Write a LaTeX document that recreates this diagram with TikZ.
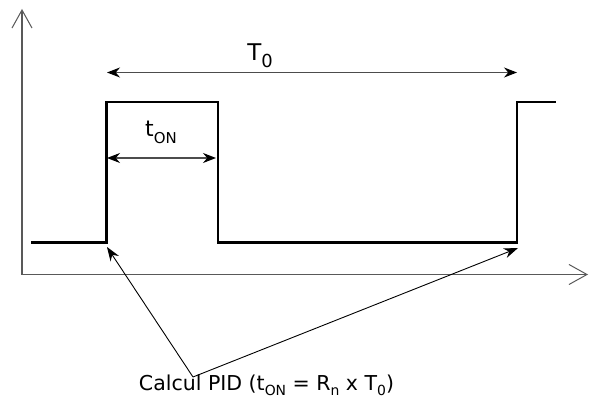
\documentclass[tikz,border=0pt]{standalone}
\usepackage{fontspec}
\setmainfont{DejaVu Sans}
\usetikzlibrary{arrows.meta}
\newcommand{\lowtxt}[2][0.68]{\raisebox{-0.28em}{\scalebox{#1}{#2}}}
\begin{document}
\begin{tikzpicture}[x=1pt,y=-1pt,
  axis/.style={draw=black!65,line width=1.1pt,-{Straight Barb[length=18pt,width=20pt,line width=1pt]}},
  signal/.style={draw=black,line width=2.4pt,line join=miter},
  span/.style={draw=black!70,line width=1.1pt,{Stealth[length=13pt,width=10pt,black]}-{Stealth[length=13pt,width=10pt,black]}},
  pointer/.style={draw=black,line width=0.9pt,-{Stealth[length=14pt,width=10pt]}},
  lbl/.style={inner sep=0pt,font=\fontsize{20.5}{24}\selectfont}]
\useasboundingbox (0,0) rectangle (593,403);
% axes
\coordinate (O) at (22,274.5);
\coordinate (ytop) at (22,9);
\coordinate (xend) at (588,274.5);
\draw[axis] (O) -- (ytop);
\draw[axis] (O) -- (xend);
% signal
\coordinate (s0) at (31,242.5);
\coordinate (s1) at (106.5,242.5);
\coordinate (s2) at (106.5,102);
\coordinate (s3) at (218,102);
\coordinate (s4) at (218,242.5);
\coordinate (s5) at (517,242.5);
\coordinate (s6) at (517,102);
\coordinate (s7) at (556,102);
\draw[signal] (s0) -- (s1) -- (s2) -- (s3) -- (s4) -- (s5) -- (s6) -- (s7);
% T0 span
\coordinate (T0a) at (107,72.5);
\coordinate (T0b) at (517,72.5);
\draw[span] (T0a) -- (T0b);
\node[lbl,anchor=base,font=\fontsize{23}{26}\selectfont] (T0l) at (260,61) {T\lowtxt[0.78]{0}};
% tON span
\coordinate (tA) at (107,158);
\coordinate (tB) at (216,158);
\draw[span] (tA) -- (tB);
\node[lbl,anchor=base,font=\fontsize{22}{26}\selectfont] (tonl) at (161,137) {t\lowtxt{ON}};
% caption and pointers
\node[lbl,anchor=base] (cap) at (266.5,390) {Calcul PID (t\lowtxt{ON} = R\lowtxt{n} x T\lowtxt{0})};
\coordinate (m) at (193,377);
\coordinate (p1) at (107,247);
\coordinate (p2) at (518,248);
\draw[pointer] (m) -- (p1);
\draw[pointer] (m) -- (p2);
\end{tikzpicture}
\end{document}
